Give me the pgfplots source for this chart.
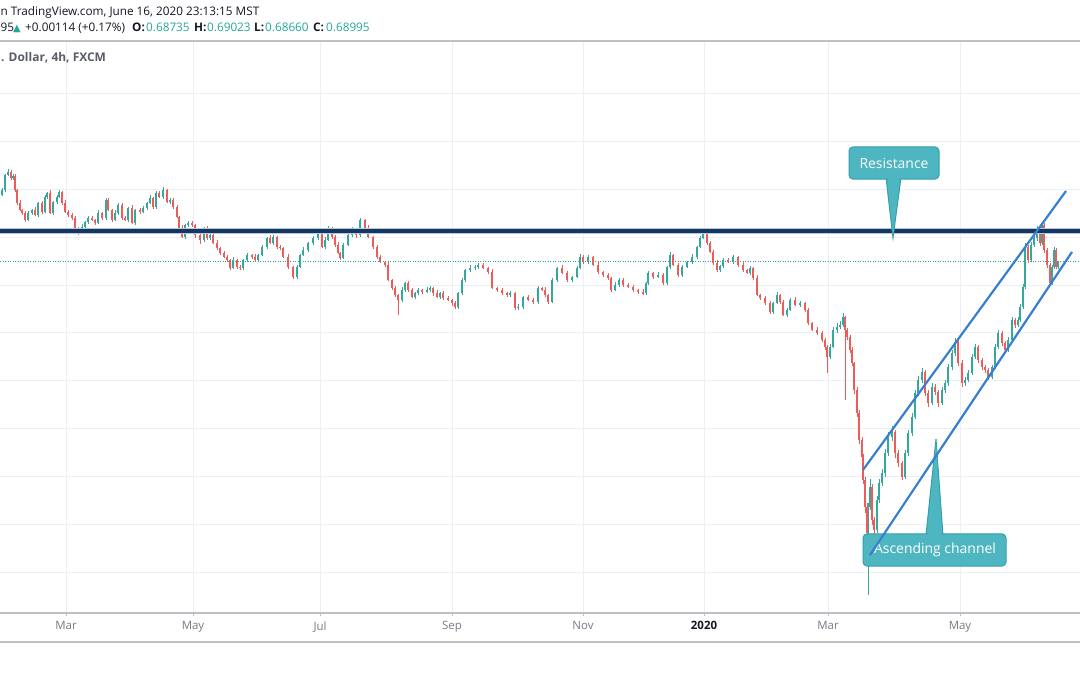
\documentclass[border=0pt]{standalone}
\usepackage{pgfplots}
\pgfplotsset{compat=1.18}
\usepackage{pgfplotstable}
\usepackage{fontspec}
\setmainfont{Open Sans}
\newfontfamily\dejavu{DejaVu Sans}
\definecolor{upc}{RGB}{52,168,156}
\definecolor{dnc}{RGB}{238,92,90}
\definecolor{gridc}{RGB}{236,239,245}
\definecolor{navyc}{RGB}{19,55,100}
\definecolor{halo}{RGB}{185,198,214}
\definecolor{chan}{RGB}{56,128,205}
\definecolor{callfill}{RGB}{77,182,192}
\definecolor{calldraw}{RGB}{52,160,172}
\definecolor{txtdark}{RGB}{19,23,34}
\definecolor{txtgrey}{RGB}{88,92,102}
\definecolor{tickgrey}{RGB}{120,123,134}
\definecolor{lineg}{RGB}{190,192,198}
\definecolor{valc}{RGB}{38,166,154}

\pgfplotstableread{
x o h l c
2 0.7176 0.7204 0.7170 0.7196
5 0.7196 0.7264 0.7186 0.7259
8 0.7259 0.7283 0.7255 0.7272
11 0.7272 0.7278 0.7237 0.7246
13 0.7246 0.7264 0.7239 0.7255
15 0.7255 0.7263 0.7190 0.7196
17 0.7196 0.7201 0.7132 0.7142
20 0.7142 0.7153 0.7109 0.7113
22 0.7113 0.7119 0.7091 0.7100
25 0.7100 0.7109 0.7064 0.7071
28 0.7071 0.7108 0.7065 0.7100
32 0.7100 0.7118 0.7090 0.7113
35 0.7113 0.7124 0.7088 0.7092
38 0.7092 0.7148 0.7083 0.7142
42 0.7142 0.7151 0.7098 0.7105
45 0.7105 0.7175 0.7099 0.7167
47 0.7167 0.7189 0.7157 0.7184
50 0.7184 0.7195 0.7096 0.7100
53 0.7100 0.7152 0.7091 0.7146
57 0.7146 0.7176 0.7139 0.7167
59 0.7167 0.7196 0.7161 0.7188
62 0.7188 0.7193 0.7132 0.7142
65 0.7142 0.7153 0.7101 0.7105
68 0.7105 0.7111 0.7083 0.7092
72 0.7092 0.7101 0.7073 0.7080
75 0.7080 0.7088 0.7032 0.7038
78 0.7038 0.7043 0.7007 0.7017
82 0.7017 0.7053 0.7013 0.7042
85 0.7042 0.7069 0.7033 0.7063
88 0.7063 0.7089 0.7056 0.7080
92 0.7080 0.7088 0.7065 0.7071
95 0.7071 0.7076 0.7049 0.7059
98 0.7059 0.7111 0.7055 0.7100
102 0.7100 0.7106 0.7071 0.7080
106 0.7080 0.7164 0.7073 0.7155
108 0.7155 0.7163 0.7107 0.7113
112 0.7113 0.7118 0.7061 0.7071
115 0.7071 0.7111 0.7067 0.7100
118 0.7100 0.7140 0.7091 0.7134
122 0.7134 0.7143 0.7073 0.7080
125 0.7080 0.7088 0.7065 0.7071
128 0.7071 0.7126 0.7061 0.7121
132 0.7121 0.7132 0.7055 0.7059
135 0.7059 0.7119 0.7050 0.7113
140 0.7113 0.7122 0.7098 0.7105
143 0.7105 0.7129 0.7099 0.7121
147 0.7121 0.7147 0.7111 0.7142
150 0.7142 0.7174 0.7138 0.7163
153 0.7163 0.7169 0.7117 0.7126
156 0.7126 0.7193 0.7119 0.7184
159 0.7184 0.7192 0.7161 0.7167
163 0.7167 0.7207 0.7157 0.7196
167 0.7196 0.7202 0.7142 0.7146
170 0.7146 0.7164 0.7137 0.7155
173 0.7155 0.7163 0.7119 0.7126
177 0.7126 0.7134 0.7078 0.7084
179 0.7084 0.7089 0.7028 0.7038
182 0.7038 0.7049 0.6996 0.7000
185 0.7000 0.7056 0.6991 0.7050
188 0.7050 0.7068 0.7043 0.7059
192 0.7059 0.7067 0.7044 0.7050
195 0.7050 0.7055 0.6998 0.7008
200 0.7008 0.7019 0.6970 0.6988
204 0.6988 0.7044 0.6979 0.7038
207 0.7038 0.7047 0.6989 0.6996
210 0.6996 0.7016 0.6986 0.7008
213 0.7008 0.7013 0.6971 0.6975
217 0.6975 0.6986 0.6945 0.6954
220 0.6954 0.6960 0.6926 0.6933
224 0.6933 0.6942 0.6913 0.6917
227 0.6917 0.6925 0.6895 0.6904
230 0.6904 0.6909 0.6864 0.6871
233 0.6871 0.6915 0.6867 0.6904
237 0.6904 0.6910 0.6866 0.6875
240 0.6875 0.6884 0.6864 0.6871
243 0.6871 0.6909 0.6861 0.6904
247 0.6904 0.6933 0.6898 0.6925
252 0.6925 0.6930 0.6908 0.6917
255 0.6917 0.6928 0.6900 0.6904
258 0.6904 0.6931 0.6895 0.6925
262 0.6925 0.6968 0.6919 0.6959
267 0.6959 0.7001 0.6949 0.6996
270 0.6996 0.7007 0.6971 0.6975
273 0.6975 0.7009 0.6966 0.7000
277 0.7000 0.7006 0.6952 0.6959
280 0.6959 0.6967 0.6944 0.6954
283 0.6954 0.6959 0.6913 0.6917
288 0.6917 0.6928 0.6866 0.6875
293 0.6875 0.6881 0.6823 0.6833
297 0.6833 0.6883 0.6826 0.6875
300 0.6875 0.6930 0.6869 0.6925
303 0.6925 0.6957 0.6921 0.6946
308 0.6946 0.6981 0.6936 0.6975
313 0.6975 0.7005 0.6968 0.6996
318 0.6996 0.7029 0.6989 0.7021
322 0.7021 0.7026 0.6953 0.6959
325 0.6959 0.6999 0.6949 0.6988
328 0.6988 0.7046 0.6984 0.7038
332 0.7038 0.7044 0.6991 0.7000
335 0.7000 0.7009 0.6960 0.6967
338 0.6967 0.6978 0.6929 0.6933
340 0.6933 0.6938 0.6904 0.6913
343 0.6913 0.6976 0.6907 0.6967
348 0.6967 0.7016 0.6963 0.7008
352 0.7008 0.7040 0.6999 0.7029
356 0.7029 0.7035 0.6998 0.7008
360 0.7008 0.7080 0.7002 0.7071
365 0.7071 0.7076 0.7031 0.7038
368 0.7038 0.7049 0.6996 0.7000
373 0.7000 0.7006 0.6950 0.6959
377 0.6959 0.6968 0.6910 0.6917
380 0.6917 0.6925 0.6890 0.6896
385 0.6896 0.6901 0.6873 0.6883
388 0.6883 0.6894 0.6817 0.6821
392 0.6821 0.6827 0.6778 0.6787
395 0.6787 0.6796 0.6751 0.6758
398 0.6758 0.6763 0.6675 0.6737
402 0.6737 0.6790 0.6731 0.6779
405 0.6779 0.6814 0.6769 0.6808
408 0.6808 0.6816 0.6772 0.6779
412 0.6779 0.6788 0.6746 0.6750
415 0.6750 0.6771 0.6741 0.6766
418 0.6766 0.6787 0.6759 0.6779
422 0.6779 0.6784 0.6762 0.6771
427 0.6771 0.6790 0.6765 0.6779
430 0.6779 0.6795 0.6770 0.6787
433 0.6787 0.6792 0.6756 0.6766
437 0.6766 0.6777 0.6746 0.6750
440 0.6750 0.6772 0.6741 0.6766
443 0.6766 0.6775 0.6738 0.6745
448 0.6745 0.6753 0.6731 0.6737
452 0.6737 0.6742 0.6714 0.6724
455 0.6724 0.6735 0.6700 0.6708
458 0.6708 0.6772 0.6699 0.6766
462 0.6766 0.6830 0.6759 0.6821
465 0.6821 0.6867 0.6811 0.6862
470 0.6862 0.6882 0.6856 0.6871
475 0.6871 0.6884 0.6864 0.6875
478 0.6875 0.6891 0.6866 0.6883
483 0.6883 0.6892 0.6865 0.6871
488 0.6871 0.6876 0.6844 0.6854
492 0.6854 0.6865 0.6783 0.6787
497 0.6787 0.6793 0.6770 0.6779
502 0.6779 0.6788 0.6759 0.6766
507 0.6766 0.6771 0.6748 0.6758
510 0.6758 0.6774 0.6751 0.6766
515 0.6766 0.6772 0.6696 0.6704
518 0.6704 0.6719 0.6694 0.6708
523 0.6708 0.6756 0.6701 0.6750
528 0.6750 0.6759 0.6733 0.6737
533 0.6737 0.6745 0.6719 0.6729
538 0.6729 0.6795 0.6722 0.6787
542 0.6787 0.6792 0.6775 0.6779
545 0.6779 0.6790 0.6749 0.6758
548 0.6758 0.6764 0.6722 0.6729
552 0.6729 0.6829 0.6725 0.6821
557 0.6821 0.6876 0.6812 0.6871
562 0.6871 0.6882 0.6846 0.6850
567 0.6850 0.6858 0.6812 0.6821
572 0.6821 0.6839 0.6814 0.6833
577 0.6833 0.6880 0.6829 0.6871
580 0.6871 0.6928 0.6865 0.6917
583 0.6917 0.6925 0.6889 0.6896
588 0.6896 0.6926 0.6886 0.6917
593 0.6917 0.6922 0.6879 0.6883
598 0.6883 0.6894 0.6845 0.6854
603 0.6854 0.6860 0.6835 0.6842
608 0.6842 0.6851 0.6822 0.6829
611 0.6829 0.6834 0.6770 0.6779
615 0.6779 0.6811 0.6775 0.6800
619 0.6800 0.6829 0.6791 0.6821
623 0.6821 0.6827 0.6793 0.6800
628 0.6800 0.6809 0.6788 0.6792
633 0.6792 0.6800 0.6770 0.6779
638 0.6779 0.6784 0.6764 0.6771
643 0.6771 0.6782 0.6758 0.6766
646 0.6766 0.6814 0.6757 0.6808
648 0.6808 0.6859 0.6801 0.6850
653 0.6850 0.6855 0.6823 0.6833
658 0.6833 0.6853 0.6829 0.6842
663 0.6842 0.6850 0.6799 0.6808
667 0.6808 0.6881 0.6801 0.6875
670 0.6875 0.6936 0.6866 0.6925
673 0.6925 0.6930 0.6879 0.6883
678 0.6883 0.6892 0.6832 0.6842
682 0.6842 0.6883 0.6835 0.6875
687 0.6875 0.6902 0.6869 0.6896
692 0.6896 0.6928 0.6887 0.6917
697 0.6917 0.6964 0.6910 0.6959
700 0.6959 0.7005 0.6953 0.6996
703 0.6996 0.7033 0.6990 0.7021
707 0.7021 0.7027 0.6968 0.6975
710 0.6975 0.6984 0.6934 0.6938
713 0.6938 0.6944 0.6883 0.6892
717 0.6892 0.6903 0.6855 0.6862
720 0.6862 0.6884 0.6853 0.6879
723 0.6879 0.6912 0.6872 0.6904
728 0.6904 0.6913 0.6892 0.6896
733 0.6896 0.6926 0.6887 0.6917
738 0.6917 0.6922 0.6876 0.6883
743 0.6883 0.6894 0.6853 0.6862
747 0.6862 0.6868 0.6846 0.6850
750 0.6850 0.6879 0.6841 0.6871
753 0.6871 0.6877 0.6822 0.6829
757 0.6829 0.6840 0.6754 0.6758
760 0.6758 0.6763 0.6736 0.6745
765 0.6745 0.6754 0.6717 0.6724
770 0.6724 0.6733 0.6677 0.6687
773 0.6687 0.6729 0.6680 0.6724
777 0.6724 0.6769 0.6720 0.6758
780 0.6758 0.6764 0.6720 0.6729
783 0.6729 0.6738 0.6669 0.6675
787 0.6675 0.6705 0.6668 0.6696
790 0.6696 0.6745 0.6690 0.6737
795 0.6737 0.6748 0.6712 0.6716
800 0.6716 0.6732 0.6707 0.6724
805 0.6724 0.6729 0.6686 0.6696
808 0.6696 0.6705 0.6634 0.6641
812 0.6641 0.6647 0.6608 0.6612
817 0.6612 0.6623 0.6590 0.6599
822 0.6599 0.6608 0.6560 0.6570
825 0.6570 0.6580 0.6530 0.6541
827 0.6541 0.6550 0.6432 0.6499
830 0.6499 0.6552 0.6490 0.6541
833 0.6541 0.6625 0.6535 0.6612
837 0.6612 0.6640 0.6600 0.6625
840 0.6625 0.6650 0.6615 0.6633
843 0.6633 0.6683 0.6625 0.6666
845 0.6666 0.6672 0.6320 0.6612
847 0.6612 0.6620 0.6570 0.6583
850 0.6583 0.6590 0.6515 0.6529
852 0.6529 0.6540 0.6460 0.6474
854 0.6474 0.6480 0.6345 0.6362
857 0.6362 0.6375 0.6250 0.6266
859 0.6266 0.6280 0.6135 0.6153
862 0.6153 0.6165 0.6060 0.6082
863 0.6082 0.6095 0.5970 0.5986
865 0.5986 0.6000 0.5850 0.5873
867 0.5873 0.5890 0.5740 0.5765
868 0.5765 0.5890 0.5506 0.5873
870 0.5873 0.5990 0.5860 0.5957
872 0.5957 0.5970 0.5800 0.5819
874 0.5819 0.5830 0.5755 0.5777
877 0.5777 0.5920 0.5765 0.5903
879 0.5903 0.5990 0.5890 0.5973
882 0.5973 0.6030 0.5960 0.6015
885 0.6015 0.6115 0.6000 0.6098
888 0.6098 0.6185 0.6085 0.6165
892 0.6165 0.6210 0.6150 0.6186
895 0.6186 0.6195 0.6080 0.6098
898 0.6098 0.6110 0.6040 0.6057
902 0.6057 0.6065 0.5985 0.5998
905 0.5998 0.6110 0.5990 0.6098
908 0.6098 0.6195 0.6085 0.6182
912 0.6182 0.6265 0.6170 0.6249
915 0.6249 0.6362 0.6240 0.6349
918 0.6349 0.6420 0.6335 0.6403
922 0.6403 0.6453 0.6390 0.6437
925 0.6437 0.6445 0.6335 0.6349
928 0.6349 0.6360 0.6290 0.6307
932 0.6307 0.6390 0.6300 0.6374
935 0.6374 0.6385 0.6340 0.6353
938 0.6353 0.6362 0.6290 0.6307
942 0.6307 0.6375 0.6300 0.6362
945 0.6362 0.6405 0.6350 0.6391
948 0.6391 0.6470 0.6380 0.6457
952 0.6457 0.6530 0.6445 0.6516
955 0.6516 0.6578 0.6505 0.6562
958 0.6562 0.6570 0.6460 0.6474
962 0.6474 0.6485 0.6375 0.6391
965 0.6391 0.6415 0.6380 0.6403
968 0.6403 0.6445 0.6395 0.6432
972 0.6432 0.6512 0.6425 0.6499
975 0.6499 0.6555 0.6490 0.6541
978 0.6541 0.6550 0.6475 0.6487
982 0.6487 0.6495 0.6445 0.6457
985 0.6457 0.6465 0.6432 0.6445
988 0.6445 0.6455 0.6405 0.6416
992 0.6416 0.6468 0.6408 0.6457
995 0.6457 0.6552 0.6450 0.6541
998 0.6541 0.6612 0.6532 0.6599
1002 0.6599 0.6608 0.6545 0.6558
1005 0.6558 0.6565 0.6518 0.6529
1008 0.6529 0.6582 0.6520 0.6570
1012 0.6570 0.6668 0.6562 0.6654
1015 0.6654 0.6662 0.6622 0.6633
1018 0.6633 0.6665 0.6625 0.6654
1020 0.6654 0.6720 0.6645 0.6708
1023 0.6708 0.6805 0.6700 0.6792
1025 0.6792 0.6975 0.6785 0.6959
1028 0.6959 0.6968 0.6890 0.6904
1031 0.6904 0.6980 0.6895 0.6967
1034 0.6967 0.7008 0.6958 0.6996
1037 0.6996 0.7048 0.6985 0.7038
1040 0.7038 0.7045 0.6962 0.6975
1042 0.6975 0.7063 0.6968 0.7050
1044 0.7050 0.7060 0.6935 0.6946
1047 0.6946 0.6955 0.6870 0.6883
1050 0.6883 0.6890 0.6795 0.6808
1052 0.6808 0.6885 0.6800 0.6875
1054 0.6875 0.6958 0.6865 0.6946
1056 0.6946 0.6955 0.6865 0.6874
1058 0.6874 0.6902 0.6866 0.6900
}\candles

\begin{document}
\begin{tikzpicture}
\fill[white] (0,0) rectangle (1080bp,675bp);
\useasboundingbox (0,0) rectangle (1080bp,675bp);

% header
\draw[lineg, line width=1.2bp] (0,634bp) -- (1080bp,634bp);
\begin{scope}[every node/.style={inner sep=0pt, font=\fontsize{11.8}{13}\selectfont, text=txtdark}]
\node[anchor=base west] at (0.5bp,659bp) {n TradingView.com, June 16, 2020 23:13:15 MST};
\node[anchor=base west] at (0.5bp,643bp) {95};
\node[anchor=base, text=valc] at (17bp,643.5bp) {\dejavu\fontsize{10}{10}\selectfont ▲};
\node[anchor=base west] at (25bp,643bp) {+0.00114 (+0.17\%)};
\node[anchor=base west] at (132bp,643bp) {\bfseries O:};
\node[anchor=base west, text=valc] at (146bp,643bp) {0.68735};
\node[anchor=base west] at (194bp,643bp) {\bfseries H:};
\node[anchor=base west, text=valc] at (207bp,643bp) {0.69023};
\node[anchor=base west] at (254bp,643bp) {\bfseries L:};
\node[anchor=base west, text=valc] at (265bp,643bp) {0.68660};
\node[anchor=base west] at (313bp,643bp) {\bfseries C:};
\node[anchor=base west, text=valc] at (326bp,643bp) {0.68995};
\end{scope}

\begin{axis}[
  at={(0bp,62bp)}, anchor=south west,
  scale only axis, width=1080bp, height=571bp,
  xmin=0, xmax=1080, ymin=0.5431, ymax=0.7814,
  axis line style={draw=none},
  tick pos=left,
  xtick={66,193,320,452,583,704,828,960},
  xticklabels={Mar,May,Jul,Sep,Nov,{\textbf{\textcolor{txtdark}{2020}}},Mar,May},
  ytick={0.56,0.58,0.60,0.62,0.64,0.66,0.68,0.70,0.72,0.74,0.76},
  yticklabels={},
  ytick style={draw=none},
  xtick style={draw=lineg, line width=0.8bp},
  tick align=outside, major tick length=3bp,
  grid=major, major grid style={draw=gridc, line width=0.8bp},
  xticklabel style={font=\fontsize{11.5}{13}\selectfont, text=tickgrey, yshift=-2bp},
]
\node[anchor=base west, inner sep=0pt, font=\bfseries\fontsize{12}{14}\selectfont, text=txtgrey] at (axis cs:1,0.7733) {. Dollar, 4h, FXCM};

\addplot[valc, line width=1bp, dash pattern=on 1bp off 1.5bp, forget plot] coordinates {(0,0.68995) (1080,0.68995)};

% wicks
\addplot[draw=none, mark=none, forget plot,
  restrict expr to domain={\thisrow{c}-\thisrow{o}}{0:1},
  error bars/.cd, y dir=both, y explicit, error mark=none,
  error bar style={draw=upc, line width=1bp}]
  table[x=x, y expr={(\thisrow{h}+\thisrow{l})/2}, y error expr={(\thisrow{h}-\thisrow{l})/2}] {\candles};
\addplot[draw=none, mark=none, forget plot,
  restrict expr to domain={\thisrow{c}-\thisrow{o}}{-1:-0.00001},
  error bars/.cd, y dir=both, y explicit, error mark=none,
  error bar style={draw=dnc, line width=1bp}]
  table[x=x, y expr={(\thisrow{h}+\thisrow{l})/2}, y error expr={(\thisrow{h}-\thisrow{l})/2}] {\candles};
% bodies
\addplot[draw=none, mark=none, forget plot,
  restrict expr to domain={\thisrow{c}-\thisrow{o}}{0:1},
  error bars/.cd, y dir=both, y explicit, error mark=none,
  error bar style={draw=upc, line width=2.4bp}]
  table[x=x, y expr={(\thisrow{o}+\thisrow{c})/2}, y error expr={abs(\thisrow{c}-\thisrow{o})/2}] {\candles};
\addplot[draw=none, mark=none, forget plot,
  restrict expr to domain={\thisrow{c}-\thisrow{o}}{-1:-0.00001},
  error bars/.cd, y dir=both, y explicit, error mark=none,
  error bar style={draw=dnc, line width=2.4bp}]
  table[x=x, y expr={(\thisrow{o}+\thisrow{c})/2}, y error expr={abs(\thisrow{c}-\thisrow{o})/2}] {\candles};

% resistance
\addplot[halo, line width=5.5bp, forget plot] coordinates {(0,0.7025) (1080,0.7025)};
\addplot[navyc, line width=4bp, forget plot] coordinates {(0,0.7025) (1080,0.7025)};

% callout: Resistance
\filldraw[fill=callfill, draw=calldraw, line width=1bp] (axis cs:886,0.7249) -- (axis cs:893,0.6996) -- (axis cs:901,0.7249) -- cycle;
\filldraw[fill=callfill, draw=calldraw, line width=1bp, rounded corners=4bp] (axis cs:849,0.7376) rectangle (axis cs:939,0.7242);
\fill[callfill] (axis cs:887.5,0.7247) -- (axis cs:893,0.7010) -- (axis cs:899.5,0.7247) -- cycle;
\node[text=white, font=\fontsize{14}{16}\selectfont] at (axis cs:894,0.7309) {Resistance};

% callout: Ascending channel
\filldraw[fill=callfill, draw=calldraw, line width=1bp] (axis cs:926,0.5755) -- (axis cs:936,0.6157) -- (axis cs:943,0.5755) -- cycle;
\filldraw[fill=callfill, draw=calldraw, line width=1bp, rounded corners=4bp] (axis cs:863,0.5761) rectangle (axis cs:1006,0.5627);
\fill[callfill] (axis cs:927.5,0.5757) -- (axis cs:936,0.6140) -- (axis cs:941.5,0.5757) -- cycle;
\node[text=white, font=\fontsize{14}{16}\selectfont] at (axis cs:935,0.5694) {Ascending channel};

% channel
\addplot[chan, line width=2.2bp, forget plot] coordinates {(863,0.6028) (1066,0.7192)};
\addplot[chan, line width=2.2bp, forget plot] coordinates {(870,0.5673) (1072,0.6938)};
\end{axis}

\draw[lineg, line width=1.2bp] (0,62bp) -- (1080bp,62bp);
\draw[lineg, line width=1.2bp] (0,33bp) -- (1080bp,33bp);
\end{tikzpicture}
\end{document}
